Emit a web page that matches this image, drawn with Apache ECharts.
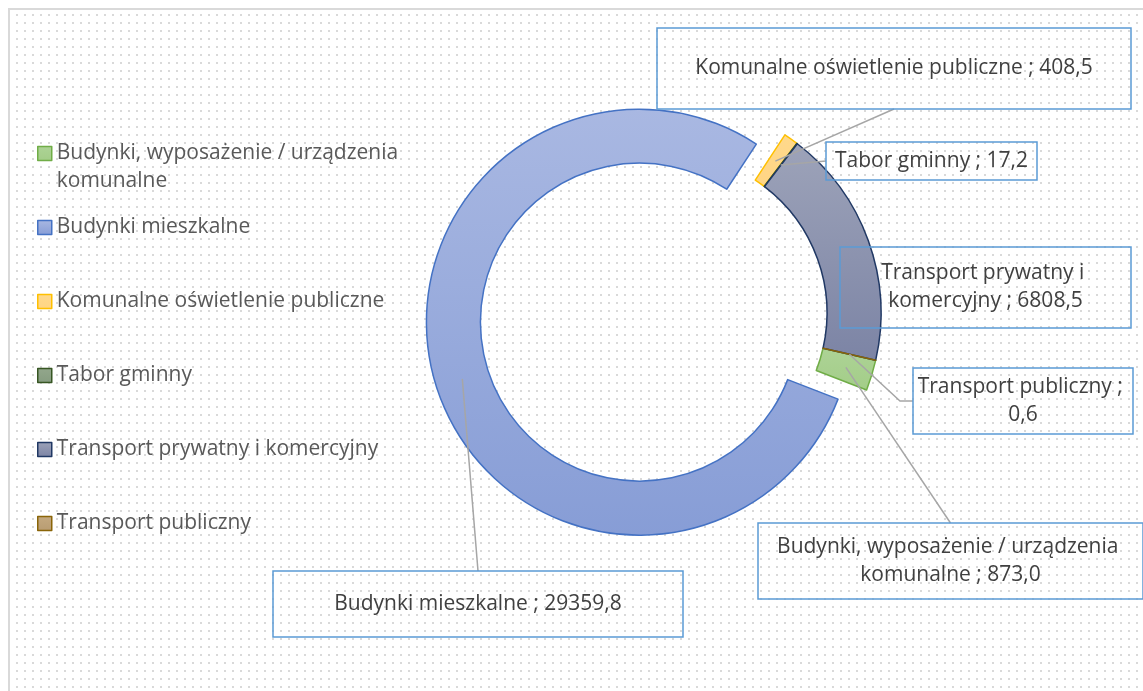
<!DOCTYPE html>
<html>
<head>
<meta charset="utf-8">
<script src="https://cdn.jsdelivr.net/npm/echarts@6/dist/echarts.min.js"></script>
<style>
html, body { margin: 0; padding: 0; background: #fff; }
#chart { width: 1143px; height: 691px; }
</style>
</head>
<body>
<div id="chart"></div>
<script>
// dane (emisja wg sektorów)
var categories = ['Budynki, wyposażenie / urządzenia komunalne', 'Budynki mieszkalne', 'Komunalne oświetlenie publiczne', 'Tabor gminny', 'Transport prywatny i komercyjny', 'Transport publiczny'];
var values = [873.0, 29359.8, 408.5, 17.2, 6808.5, 0.6];
var explodedIndex = 1;

// kolory wycinków
var fillTop = ['#add396', '#a9b8e2', '#ffd98c', '#93a78c', '#9da3b9', '#c4a980'];
var fillBottom = ['#a3cd88', '#879dd6', '#ffd584', '#869c80', '#7c84a5', '#b89c72'];
var borders = ['#70ad47', '#4472c4', '#ffc000', '#375623', '#203864', '#8a6508'];

// pozycje ramek z etykietami
var labelBoxes = [
    { x: 950.5, y: 561, w: 385, h: 76, lines: 2, side: 'top' },
    { x: 478, y: 604, w: 410, h: 66, lines: 1, side: 'top' },
    { x: 894, y: 68.5, w: 474, h: 81, lines: 1, side: 'bottom' },
    { x: 931.5, y: 161, w: 211, h: 38, lines: 1, side: 'left' },
    { x: 985.5, y: 287.5, w: 291, h: 81, lines: 2, side: null },
    { x: 1023, y: 401, w: 220, h: 66, lines: 2, side: 'left', elbow: 13 }
];

var center = [668, 313];
var radius = [159, 213];
var startAngle = 347.2;
var selOffset = 30;
var lineH = 28;
var fontFamily = '"Open Sans", sans-serif';

var chart = echarts.init(document.getElementById('chart'));

var total = values.reduce(function (a, b) { return a + b; }, 0);
var midAngles = [];
(function () {
    var a = startAngle;
    values.forEach(function (v) {
        var span = v / total * 360;
        midAngles.push(a - span / 2);
        a -= span;
    });
})();

function leaderLine(i) {
    var b = labelBoxes[i];
    if (!b.side) return null;
    var rad = midAngles[i] * Math.PI / 180;
    var rMid = (radius[0] + radius[1]) / 2 + (i === explodedIndex ? selOffset : 0);
    var p0 = [center[0] + rMid * Math.cos(rad), center[1] - rMid * Math.sin(rad)];
    var end;
    if (b.side === 'top') end = [b.x, b.y - b.h / 2];
    else if (b.side === 'bottom') end = [b.x, b.y + b.h / 2];
    else end = [b.x - b.w / 2, b.y];
    if (b.elbow) return [p0, [end[0] - b.elbow, end[1]], end];
    return [p0, end];
}

// tło w kropki
var tile = document.createElement('canvas');
tile.width = 8; tile.height = 8;
var tctx = tile.getContext('2d');
tctx.fillStyle = '#d9d9d9';
tctx.fillRect(0, 6, 2, 2);

var sliceData = categories.map(function (name, i) {
    return {
        name: name,
        value: values[i],
        selected: i === explodedIndex,
        itemStyle: {
            color: {
                type: 'linear', x: 0, y: 0, x2: 0, y2: 1,
                colorStops: [{ offset: 0, color: fillTop[i] }, { offset: 1, color: fillBottom[i] }]
            },
            borderColor: borders[i]
        }
    };
});

// druga, niewidoczna seria tylko z etykietami
var labelData = categories.map(function (name, i) {
    var b = labelBoxes[i];
    return {
        name: name,
        value: values[i],
        label: {
            width: b.w,
            padding: [(b.h - b.lines * lineH) / 2, 0]
        },
        labelLine: { show: !!b.side }
    };
});

var legends = categories.map(function (name, i) {
    var first = i === 0;
    return {
        data: [name],
        orient: 'vertical',
        left: 37,
        top: first ? 153.5 - 42 : 227.5 + (i - 1) * 74 - 14,
        padding: 0,
        itemWidth: 14,
        itemHeight: 14,
        itemGap: 5,
        icon: 'rect',
        selectedMode: false,
        itemStyle: { borderWidth: 1.5 },
        formatter: function (n) { return first ? '\n' + n.replace(/ (\S+)$/, '\n$1') : n; },
        textStyle: {
            color: '#595959',
            fontSize: 21,
            fontFamily: fontFamily,
            lineHeight: lineH
        }
    };
});

chart.setOption({
    animation: false,
    graphic: [{
        type: 'rect',
        z: 0,
        silent: true,
        shape: { x: 9, y: 9, width: 1200, height: 720 },
        style: { fill: { image: tile, repeat: 'repeat' }, stroke: '#d9d9d9', lineWidth: 2 }
    }],
    legend: legends,
    series: [{
        type: 'pie',
        z: 2,
        center: center,
        radius: radius,
        startAngle: startAngle,
        selectedMode: 'single',
        selectedOffset: selOffset,
        emphasis: { disabled: true },
        itemStyle: { borderWidth: 1.5 },
        label: { show: false },
        labelLine: { show: false },
        data: sliceData
    }, {
        type: 'pie',
        z: 3,
        center: center,
        radius: radius,
        startAngle: startAngle,
        silent: true,
        avoidLabelOverlap: false,
        emphasis: { disabled: true },
        itemStyle: { color: 'rgba(0,0,0,0)', borderWidth: 0 },
        label: {
            show: true,
            position: 'outside',
            color: '#404040',
            fontSize: 21,
            fontFamily: fontFamily,
            lineHeight: lineH,
            align: 'center',
            overflow: 'break',
            borderColor: '#5b9bd5',
            borderWidth: 1.5,
            formatter: function (p) {
                return p.name + ' ; ' + p.value.toFixed(1).replace('.', ',');
            }
        },
        labelLine: {
            lineStyle: { color: '#a6a6a6', width: 1.5 }
        },
        labelLayout: function (params) {
            var b = labelBoxes[params.dataIndex];
            var out = { x: b.x, y: b.y, align: 'center', verticalAlign: 'middle' };
            var pts = leaderLine(params.dataIndex);
            if (pts) out.labelLinePoints = pts;
            return out;
        },
        data: labelData
    }]
});
</script>
</body>
</html>
